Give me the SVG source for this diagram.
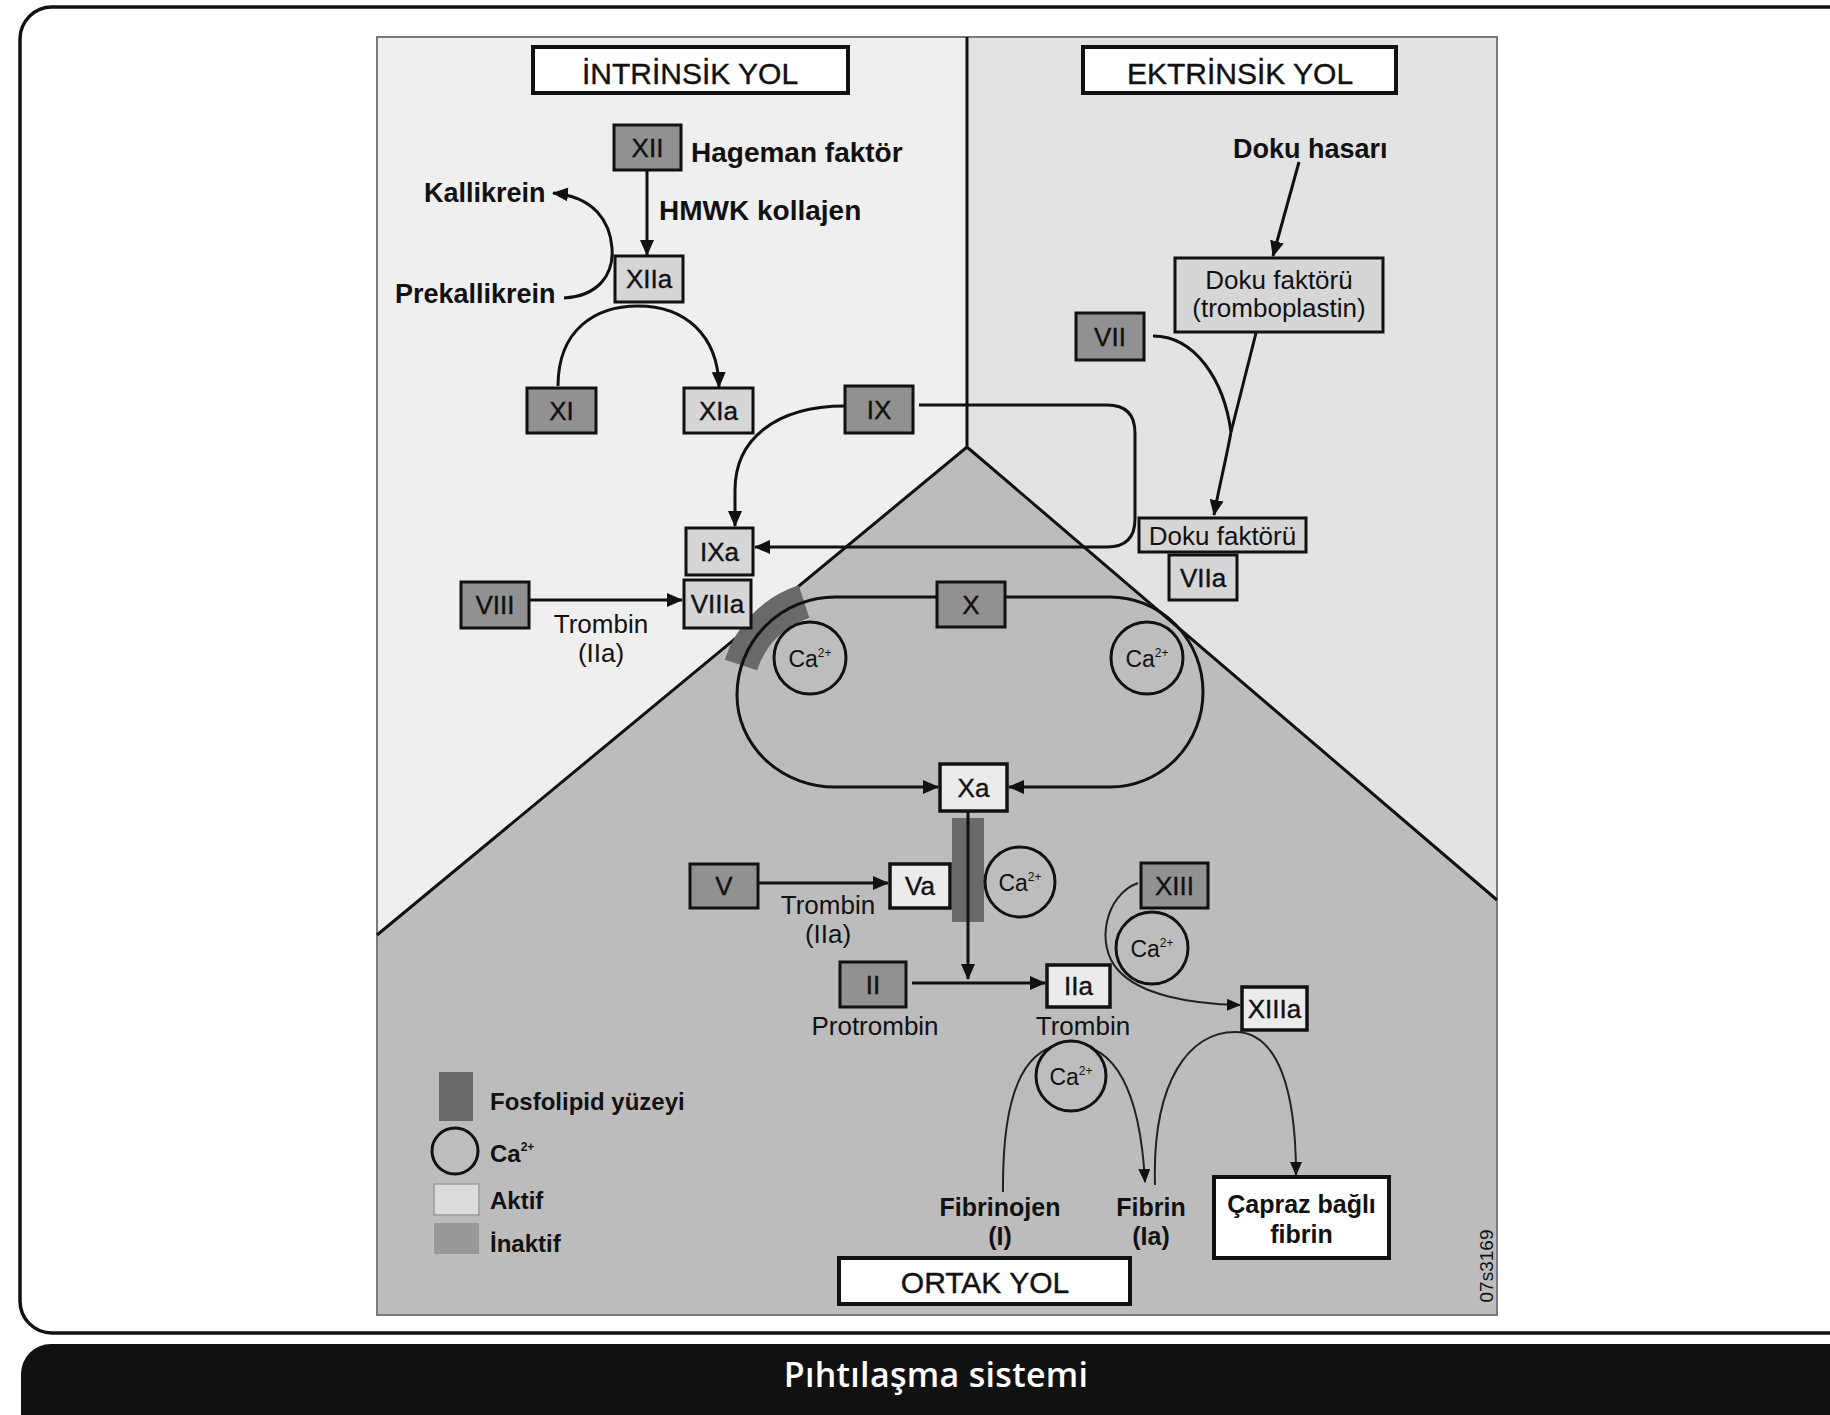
<svg xmlns="http://www.w3.org/2000/svg" width="1830" height="1415" viewBox="0 0 1830 1415">
<defs>
<marker id="ah" viewBox="0 0 16 14" refX="15" refY="7" markerWidth="16" markerHeight="14" orient="auto" markerUnits="userSpaceOnUse"><path d="M0,0 L16,7 L0,14 z" fill="#111"/></marker>
<marker id="ahs" viewBox="0 0 14 12" refX="13" refY="6" markerWidth="14" markerHeight="12" orient="auto" markerUnits="userSpaceOnUse"><path d="M0,0 L14,6 L0,12 z" fill="#111"/></marker>
<style>
.t{font-family:"Liberation Sans",Arial,sans-serif;fill:#111}
.b{font-weight:bold}
.m{text-anchor:middle}
.lbl{font-size:26px;text-anchor:middle;stroke:#111;stroke-width:0.4}
.inact{fill:#919191;stroke:#111;stroke-width:3}
.act{fill:#d6d6d6;stroke:#111;stroke-width:3}
.act2{fill:#ebebeb;stroke:#111;stroke-width:3.5}
.title{fill:#fff;stroke:#111;stroke-width:4}
.ca{fill:#bdbdbd;stroke:#111;stroke-width:3}
.c{fill:none;stroke:#111;stroke-width:3}
.thin{fill:none;stroke:#222;stroke-width:2}
.fos{fill:#696969}
</style>
</defs>

<g id="frame">
<rect x="20" y="7" width="1900" height="1326" rx="32" fill="#fff" stroke="#111" stroke-width="3.5"/>
<rect x="21" y="1344" width="1900" height="130" rx="30" fill="#111"/>
<text x="936" y="1387" font-family="Open Sans, Noto Sans, sans-serif" font-size="34" font-weight="600" letter-spacing="0.3" fill="#fff" text-anchor="middle">Pıhtılaşma sistemi</text>
</g>

<g id="panel">
<polygon points="377,37 967,37 967,447 377,935" fill="#efefef"/>
<polygon points="967,37 1497,37 1497,900 967,447" fill="#e3e3e3"/>
<polygon points="967,447 1497,900 1497,1315 377,1315 377,935" fill="#bcbcbc"/>
<rect x="377" y="37" width="1120" height="1278" fill="none" stroke="#7a7a7a" stroke-width="2"/>
<path d="M967,37 L967,447 M377,935 L967,447 L1497,900" fill="none" stroke="#111" stroke-width="3"/>
<path d="M741,665 A98,98 0 0 1 804,601.5" fill="none" stroke="#696969" stroke-width="34"/>
<rect class="fos" x="952" y="818" width="32" height="104"/>
<text class="t" x="0" y="0" font-size="19" text-anchor="middle" transform="translate(1493,1266) rotate(-90)">07s3169</text>
</g>

<g id="connectors">
<path class="c" marker-end="url(#ah)" d="M647,171 L647,255"/>
<path class="c" marker-end="url(#ah)" d="M564,298 C598,296 614,275 612,248 C610,222 595,197 553,193"/>
<path class="c" marker-end="url(#ah)" d="M558,386 C558,330 595,306 638,306 C684,306 718,334 719,387"/>
<path class="c" marker-end="url(#ah)" d="M845,406 C775,406 735,440 735,490 L735,526"/>
<path class="c" marker-end="url(#ah)" d="M919,405 L1107,405 Q1135,405 1135,433 L1135,519 Q1135,547 1107,547 L755,547"/>
<path class="c" marker-end="url(#ah)" d="M530,600 L682,600"/>
<path class="c" marker-end="url(#ah)" d="M1299,162 L1273,256"/>
<path class="c" d="M1153,336 C1195,336 1224,380 1231,432"/>
<path class="c" d="M1256,333 L1231,432"/>
<path class="c" marker-end="url(#ah)" d="M1231,432 C1226,460 1219,487 1214,515"/>
<path class="c" marker-end="url(#ah)" d="M937,597 L835,597 A98,98 0 0 0 737,695 A98,92 0 0 0 835,787 L938,787"/>
<path class="c" marker-end="url(#ah)" d="M1005,597 L1110,597 A93,95 0 0 1 1203,692 A93,95 0 0 1 1110,787 L1009,787"/>
<path class="c" marker-end="url(#ah)" d="M968,811 L968,979"/>
<path class="c" marker-end="url(#ah)" d="M758,883 L888,883"/>
<path class="c" marker-end="url(#ah)" d="M912,983 L1045,983"/>
<path class="thin" marker-end="url(#ahs)" d="M1138,883 C1105,895 1095,945 1118,970 C1140,995 1190,1004 1240,1005"/>
<path class="thin" marker-end="url(#ahs)" d="M1003,1192 C1002,1080 1030,1044 1070,1044 C1115,1044 1140,1090 1145,1182"/>
<path class="thin" marker-end="url(#ahs)" d="M1155,1185 C1152,1080 1190,1032 1235,1032 C1278,1032 1296,1090 1296,1175"/>
</g>

<g id="title-intrinsik"><rect class="title" x="533" y="47" width="315" height="46"/><text class="t m" x="690" y="84" font-size="30" stroke="#111" stroke-width="0.4">İNTRİNSİK YOL</text></g>
<g id="title-ektrinsik"><rect class="title" x="1083" y="47" width="313" height="46"/><text class="t m" x="1240" y="84" font-size="30" stroke="#111" stroke-width="0.4">EKTRİNSİK YOL</text></g>
<g id="title-ortak"><rect class="title" x="839" y="1258" width="291" height="46"/><text class="t m" x="985" y="1293" font-size="30" stroke="#111" stroke-width="0.4">ORTAK YOL</text></g>

<g id="n-XII"><rect class="inact" x="614" y="125" width="67" height="45"/><text class="t lbl" x="647.5" y="157">XII</text></g>
<g id="lbl-hageman"><text class="t b" x="691" y="162" font-size="28">Hageman faktör</text></g>
<g id="lbl-hmwk"><text class="t b" x="659" y="220" font-size="28">HMWK kollajen</text></g>
<g id="lbl-kallikrein"><text class="t b" x="424" y="202" font-size="27">Kallikrein</text></g>
<g id="lbl-prekallikrein"><text class="t b" x="395" y="303" font-size="27">Prekallikrein</text></g>
<g id="n-XIIa"><rect class="act" x="615" y="256" width="68" height="46" stroke-width="4"/><text class="t lbl" x="649" y="288">XIIa</text></g>
<g id="n-XI"><rect class="inact" x="527" y="388" width="69" height="45"/><text class="t lbl" x="561.5" y="420">XI</text></g>
<g id="n-XIa"><rect class="act" x="684" y="388" width="69" height="45"/><text class="t lbl" x="718.5" y="420">XIa</text></g>
<g id="n-IX"><rect class="inact" x="845" y="386" width="68" height="47"/><text class="t lbl" x="879" y="419">IX</text></g>
<g id="n-IXa"><rect class="act" x="686" y="528" width="67" height="47"/><text class="t lbl" x="719.5" y="561">IXa</text></g>
<g id="n-VIII"><rect class="inact" x="461" y="582" width="68" height="46"/><text class="t lbl" x="495" y="614">VIII</text></g>
<g id="n-VIIIa"><rect class="act" x="684" y="580" width="67" height="48"/><text class="t lbl" x="717.5" y="613">VIIIa</text></g>
<g id="lbl-trombin1"><text class="t m" x="601" y="633" font-size="26">Trombin</text><text class="t m" x="601" y="662" font-size="26">(IIa)</text></g>

<g id="lbl-doku-hasari"><text class="t b" x="1233" y="158" font-size="27">Doku hasarı</text></g>
<g id="n-dokufaktoru"><rect class="act" x="1175" y="258" width="208" height="74" fill="#d0d0d0"/><text class="t m" x="1279" y="289" font-size="26">Doku faktörü</text><text class="t m" x="1279" y="317" font-size="26">(tromboplastin)</text></g>
<g id="n-VII"><rect class="inact" x="1076" y="313" width="68" height="47"/><text class="t lbl" x="1110" y="346">VII</text></g>
<g id="n-dokufaktoru2"><rect class="act" x="1139" y="518" width="167" height="34" stroke-width="3.5"/><text class="t m" x="1222.5" y="545" font-size="26">Doku faktörü</text></g>
<g id="n-VIIa"><rect class="act" x="1169" y="555" width="68" height="45"/><text class="t lbl" x="1203" y="587">VIIa</text></g>

<g id="n-X"><rect class="inact" x="937" y="582" width="68" height="45"/><text class="t lbl" x="971" y="614">X</text></g>
<g id="ca1"><circle class="ca" cx="810" cy="658" r="36"/><text class="t m" x="810" y="667" font-size="23">Ca<tspan font-size="12" dy="-10">2+</tspan></text></g>
<g id="ca2"><circle class="ca" cx="1147" cy="658" r="36"/><text class="t m" x="1147" y="667" font-size="23">Ca<tspan font-size="12" dy="-10">2+</tspan></text></g>
<g id="n-Xa"><rect class="act2" x="940" y="764" width="67" height="47" stroke-width="4"/><text class="t lbl" x="973.5" y="797">Xa</text></g>
<g id="n-V"><rect class="inact" x="690" y="864" width="68" height="44"/><text class="t lbl" x="724" y="895">V</text></g>
<g id="n-Va"><rect class="act2" x="890" y="864" width="60" height="44"/><text class="t lbl" x="920" y="895">Va</text></g>
<g id="lbl-trombin2"><text class="t m" x="828" y="914" font-size="26">Trombin</text><text class="t m" x="828" y="943" font-size="26">(IIa)</text></g>
<g id="ca3"><circle class="ca" cx="1020" cy="882" r="35"/><text class="t m" x="1020" y="891" font-size="23">Ca<tspan font-size="12" dy="-10">2+</tspan></text></g>
<g id="n-II"><rect class="inact" x="840" y="962" width="66" height="45"/><text class="t lbl" x="873" y="994">II</text></g>
<g id="lbl-protrombin"><text class="t m" x="875" y="1035" font-size="26">Protrombin</text></g>
<g id="n-IIa"><rect class="act2" x="1047" y="965" width="63" height="42"/><text class="t lbl" x="1078.5" y="995">IIa</text></g>
<g id="lbl-trombin3"><text class="t m" x="1083" y="1035" font-size="26">Trombin</text></g>
<g id="n-XIII"><rect class="inact" x="1141" y="863" width="67" height="45"/><text class="t lbl" x="1174.5" y="895">XIII</text></g>
<g id="ca4"><circle class="ca" cx="1152" cy="948" r="36"/><text class="t m" x="1152" y="957" font-size="23">Ca<tspan font-size="12" dy="-10">2+</tspan></text></g>
<g id="n-XIIIa"><rect class="act2" x="1242" y="987" width="65" height="43" stroke-width="4"/><text class="t lbl" x="1274.5" y="1018">XIIIa</text></g>
<g id="ca5"><circle class="ca" cx="1071" cy="1076" r="35"/><text class="t m" x="1071" y="1085" font-size="23">Ca<tspan font-size="12" dy="-10">2+</tspan></text></g>
<g id="lbl-fibrinojen"><text class="t b m" x="1000" y="1216" font-size="25">Fibrinojen</text><text class="t b m" x="1000" y="1245" font-size="25">(I)</text></g>
<g id="lbl-fibrin"><text class="t b m" x="1151" y="1216" font-size="25">Fibrin</text><text class="t b m" x="1151" y="1245" font-size="25">(Ia)</text></g>
<g id="n-capraz"><rect class="title" x="1214" y="1177" width="175" height="81"/><text class="t b m" x="1301.5" y="1213" font-size="25">Çapraz bağlı</text><text class="t b m" x="1301.5" y="1243" font-size="25">fibrin</text></g>

<g id="legend">
<rect class="fos" x="439" y="1072" width="34" height="49"/>
<text class="t b" x="490" y="1110" font-size="24">Fosfolipid yüzeyi</text>
<circle class="ca" cx="455" cy="1151" r="23"/>
<text class="t b" x="490" y="1162" font-size="24">Ca<tspan font-size="12" dy="-11">2+</tspan></text>
<rect x="434" y="1184" width="45" height="31" fill="#dcdcdc" stroke="#9a9a9a" stroke-width="1.5"/>
<text class="t b" x="490" y="1209" font-size="24">Aktif</text>
<rect x="434" y="1223" width="45" height="31" fill="#989898"/>
<text class="t b" x="490" y="1252" font-size="24">İnaktif</text>
</g>
</svg>
